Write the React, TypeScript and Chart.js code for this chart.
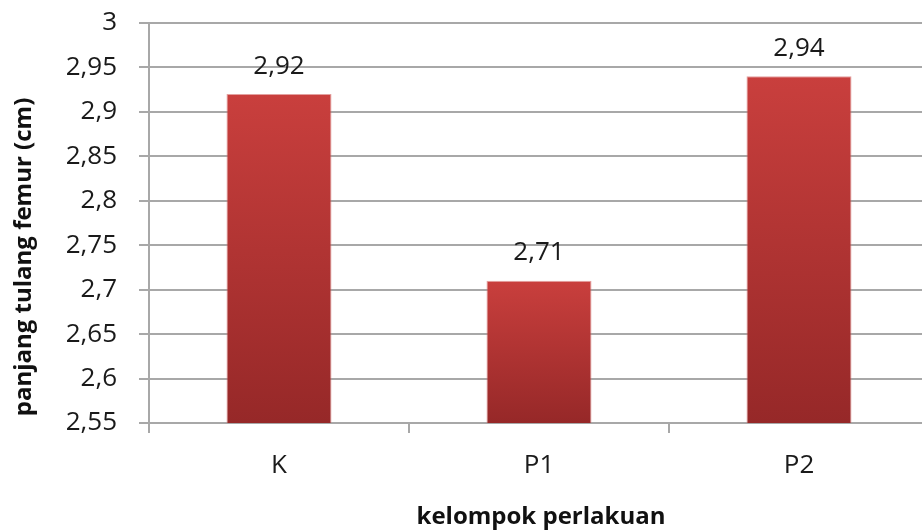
import React, { useEffect, useRef } from "react";
import { Chart, registerables } from "chart.js";

Chart.register(...registerables);

const categories = ["K", "P1", "P2"];
const values = [2.92, 2.71, 2.94];
const yTickValues = [2.55, 2.6, 2.65, 2.7, 2.75, 2.8, 2.85, 2.9, 2.95, 3];
const yTitle = "panjang tulang femur (cm)";
const xTitle = "kelompok perlakuan";

const FONT = "'Open Sans', 'DejaVu Sans', sans-serif";
const fmt = (v: number) => String(+v.toFixed(2)).replace(".", ",");

const extrasPlugin = {
  id: "extras",
  afterDatasetsDraw(chart: any) {
    const { ctx, chartArea } = chart;
    const meta = chart.getDatasetMeta(0);
    ctx.save();
    ctx.fillStyle = "#1a1a1a";
    ctx.font = `26px ${FONT}`;
    ctx.textAlign = "center";
    ctx.textBaseline = "middle";
    meta.data.forEach((bar: any, i: number) => {
      ctx.fillText(fmt(values[i]), bar.x, bar.y - 28);
    });
    // axis titles
    ctx.font = `bold 24px ${FONT}`;
    ctx.fillStyle = "#111";
    ctx.fillText(xTitle, 541, 517);
    ctx.translate(24, (chartArea.top + chartArea.bottom) / 2 + 34);
    ctx.rotate(-Math.PI / 2);
    ctx.fillText(yTitle, 0, 0);
    ctx.restore();
  },
};

export default function App() {
  const ref = useRef<HTMLCanvasElement>(null);
  useEffect(() => {
    if (!ref.current) return;
    const chart = new Chart(ref.current, {
      type: "bar",
      data: {
        labels: categories,
        datasets: [
          {
            data: values,
            backgroundColor: (c: any) => {
              const ch = c.chart;
              if (!ch.chartArea || c.type !== "data") return "#b33535";
              const ys = ch.scales.y;
              const top = ys.getPixelForValue(c.raw);
              const base = ys.getPixelForValue(ys.min);
              const g = ch.ctx.createLinearGradient(0, top, 0, base);
              g.addColorStop(0, "#c93f3d");
              g.addColorStop(1, "#962828");
              return g;
            },
            borderColor: "rgba(215,120,118,0.7)",
            borderWidth: 1,
            borderSkipped: "bottom",
            categoryPercentage: 1,
            barPercentage: 0.404,
          },
        ],
      },
      options: {
        animation: false,
        responsive: false,
        layout: { padding: { top: 23, right: 11, left: 0, bottom: 0 } },
        plugins: { legend: { display: false }, tooltip: { enabled: false } },
        scales: {
          x: {
            afterFit: (s: any) => {
              s.height = 107;
              s.paddingTop = 0;
              s.paddingBottom = 0;
              s.paddingLeft = 0;
              s.paddingRight = 0;
            },
            grid: {
              drawOnChartArea: false,
              drawTicks: true,
              tickLength: 10,
              color: "#a8a8a8",
              lineWidth: 2,
            },
            border: { display: true, color: "#a8a8a8", width: 2 },
            ticks: {
              color: "#1a1a1a",
              font: { family: FONT, size: 26 },
              padding: 17,
            },
          },
          y: {
            min: 2.55,
            max: 3,
            afterFit: (s: any) => {
              s.width = 149;
              s.paddingTop = 0;
              s.paddingBottom = 0;
            },
            afterBuildTicks: (s: any) => {
              s.ticks = yTickValues.map((v) => ({ value: v }));
            },
            grid: {
              color: "#a8a8a8",
              lineWidth: 2,
              tickLength: 10,
              drawTicks: true,
            },
            border: { display: true, color: "#a8a8a8", width: 2 },
            ticks: {
              color: "#1a1a1a",
              font: { family: FONT, size: 26 },
              padding: 22,
              callback: (v: any) => fmt(Number(v)),
            },
          },
        },
      },
      plugins: [extrasPlugin],
    });
    return () => chart.destroy();
  }, []);
  return (
    <div
      style={{
        position: "fixed",
        left: 0,
        top: 0,
        width: 922,
        height: 530,
        overflow: "hidden",
        background: "#fff",
      }}
    >
      <canvas ref={ref} width={940} height={530} />
    </div>
  );
}
